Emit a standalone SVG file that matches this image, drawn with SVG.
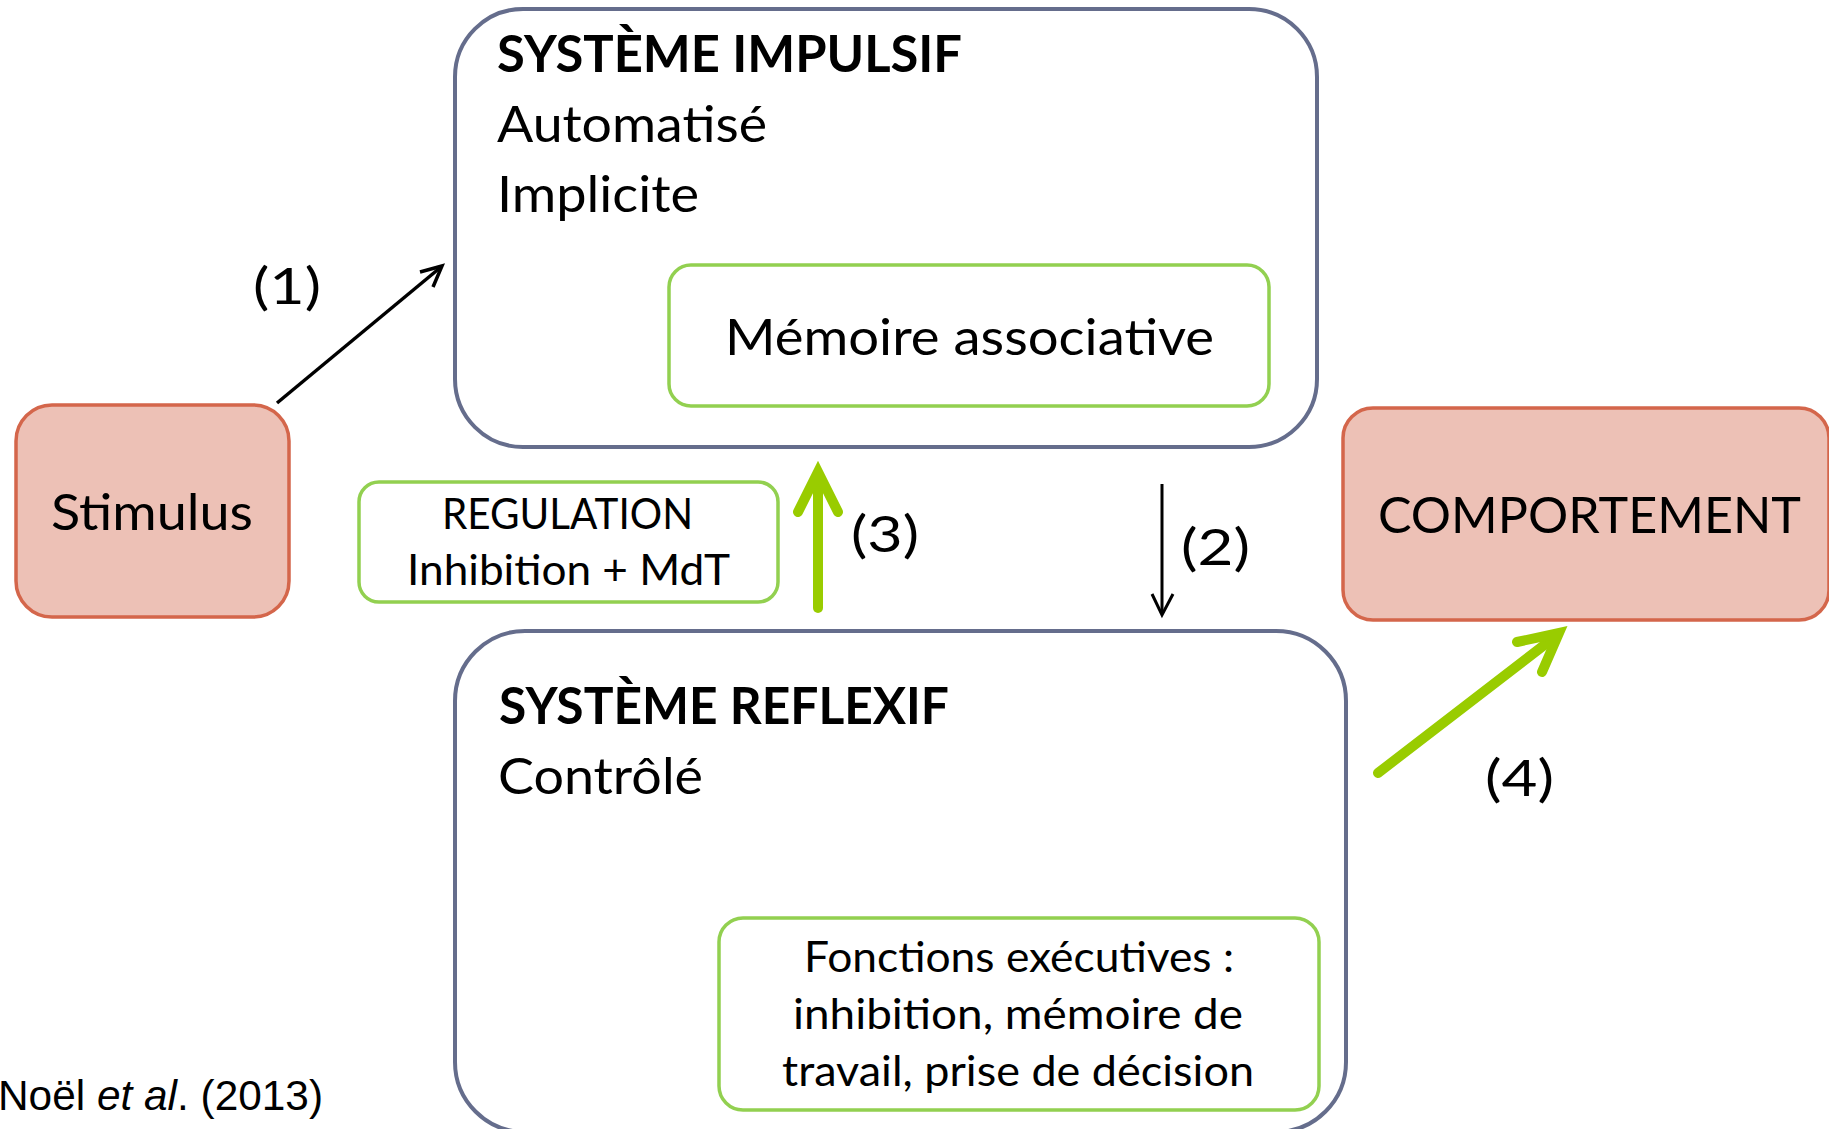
<svg xmlns="http://www.w3.org/2000/svg" width="1829" height="1129" viewBox="0 0 1829 1129">
<style>
  .sys { fill: #ffffff; stroke: #656d8c; stroke-width: 4; }
  .grn { fill: #ffffff; stroke: #92d050; stroke-width: 3.5; }
  .sal { fill: #edc1b6; stroke: #d4664b; stroke-width: 3.5; }
  .t { font-family: Lato, "Open Sans", "DejaVu Sans", sans-serif; fill: #000000; }
  .big { font-size: 51px; }
  .mid { font-size: 43px; }
  .b { font-weight: bold; }
  .blk { fill: none; stroke: #000000; stroke-linejoin: miter; }
  .lime { fill: none; stroke: #99cc00; stroke-width: 10; stroke-linecap: round; stroke-linejoin: miter; }
</style>
<rect width="1829" height="1129" fill="#ffffff"/>

<g id="systeme-impulsif">
  <rect class="sys" x="455" y="9" width="862" height="438" rx="68" ry="68"/>
  <text class="t big b" x="497" y="72" textLength="465" lengthAdjust="spacingAndGlyphs">SYSTÈME IMPULSIF</text>
  <text class="t big" x="497" y="142" textLength="270" lengthAdjust="spacingAndGlyphs">Automatisé</text>
  <text class="t big" x="497" y="212" textLength="202" lengthAdjust="spacingAndGlyphs">Implicite</text>
</g>

<g id="memoire-associative">
  <rect class="grn" x="669" y="265" width="600" height="141" rx="22" ry="22"/>
  <text class="t big" x="725" y="355" textLength="489" lengthAdjust="spacingAndGlyphs">Mémoire associative</text>
</g>

<g id="stimulus">
  <rect class="sal" x="16" y="405" width="273" height="212" rx="36" ry="36"/>
  <text class="t big" x="51" y="530" textLength="202" lengthAdjust="spacingAndGlyphs">Stimulus</text>
</g>

<g id="regulation">
  <rect class="grn" x="359" y="482" width="419" height="120" rx="20" ry="20"/>
  <text class="t mid" x="442" y="529" textLength="251" lengthAdjust="spacingAndGlyphs">REGULATION</text>
  <text class="t mid" x="407" y="585" textLength="323" lengthAdjust="spacingAndGlyphs">Inhibition + MdT</text>
</g>

<g id="comportement">
  <rect class="sal" x="1343" y="408" width="486" height="212" rx="30" ry="30"/>
  <text class="t big" x="1378" y="533" textLength="423" lengthAdjust="spacingAndGlyphs">COMPORTEMENT</text>
</g>

<g id="systeme-reflexif">
  <rect class="sys" x="455" y="631" width="891" height="501" rx="70" ry="70"/>
  <text class="t big b" x="499" y="724" textLength="450" lengthAdjust="spacingAndGlyphs">SYSTÈME REFLEXIF</text>
  <text class="t big" x="498" y="794" textLength="205" lengthAdjust="spacingAndGlyphs">Contrôlé</text>
</g>

<g id="fonctions-executives">
  <rect class="grn" x="719" y="918" width="600" height="192" rx="24" ry="24"/>
  <text class="t mid" x="804" y="972" textLength="430" lengthAdjust="spacingAndGlyphs">Fonctions exécutives :</text>
  <text class="t mid" x="793" y="1029" textLength="450" lengthAdjust="spacingAndGlyphs">inhibition, mémoire de</text>
  <text class="t mid" x="782" y="1086" textLength="472" lengthAdjust="spacingAndGlyphs">travail, prise de décision</text>
</g>

<g id="connectors">
  <g id="arrow-1">
    <path class="blk" stroke-width="3.5" d="M277,403 L441,267"/>
    <path class="blk" stroke-width="3.5" d="M420,272 L442,266 L433,287"/>
    <text class="t big" x="253" y="304" textLength="68" lengthAdjust="spacingAndGlyphs">(1)</text>
  </g>
  <g id="arrow-2">
    <path class="blk" stroke-width="3" d="M1162,484 L1162,614"/>
    <path class="blk" stroke-width="3" d="M1152,594 L1162,615 L1173,594"/>
    <text class="t big" x="1181" y="565" textLength="69" lengthAdjust="spacingAndGlyphs">(2)</text>
  </g>
  <g id="arrow-3">
    <path class="lime" stroke-linecap="butt" d="M818,608 L818,476"/>
    <path class="lime" d="M798,512 L818,472 L838,512"/>
    <text class="t big" x="851" y="552" textLength="68" lengthAdjust="spacingAndGlyphs">(3)</text>
  </g>
  <g id="arrow-4">
    <path class="lime" stroke-linecap="butt" d="M1378,773 L1556,636"/>
    <path class="lime" d="M1517,642 L1559,633 L1542,672"/>
    <text class="t big" x="1485" y="796" textLength="69" lengthAdjust="spacingAndGlyphs">(4)</text>
  </g>
</g>

<g id="citation">
  <text font-family="'Liberation Sans', Arial, sans-serif" font-size="42" fill="#000000" x="-2" y="1110" textLength="325" lengthAdjust="spacingAndGlyphs">Noël <tspan font-style="italic">et al</tspan>. (2013)</text>
</g>
</svg>
